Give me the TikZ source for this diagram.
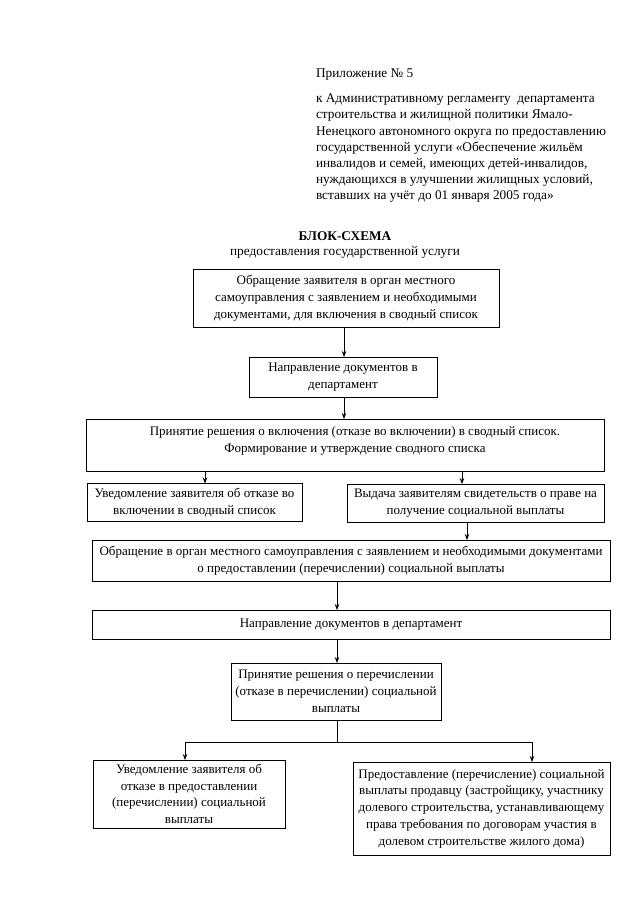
\documentclass[tikz,border=0pt]{standalone}
\usepackage{fontspec}
\setmainfont{Liberation Serif}
\usetikzlibrary{arrows.meta}
\begin{document}
\begin{tikzpicture}[x=1pt,y=-1pt,
  every node/.style={inner sep=0pt,outer sep=0pt},
  box/.style={draw,line width=0.8pt,align=center,font=\fontsize{13}{16.8}\selectfont},
  btxt/.style={align=center,font=\fontsize{13}{16.8}\selectfont},
  hdr/.style={anchor=base west,align=left,font=\fontsize{13.3}{16.2}\selectfont},
  arr/.style={line width=0.8pt,-{Stealth[length=6pt,width=4.5pt]}},
  ln/.style={line width=0.8pt}]
\useasboundingbox[fill=white] (0,0) rectangle (640,905);
% header
\node[hdr,anchor=base west] (app) at (316,77) {Приложение № 5};
\node[hdr,anchor=north west] (para) at (316,94) {к Административному регламенту~~департамента\\
строительства и жилищной политики Ямало-\\
Ненецкого автономного округа по предоставлению\\
государственной услуги «Обеспечение жильём\\
инвалидов и семей, имеющих детей-инвалидов,\\
нуждающихся в улучшении жилищных условий,\\
вставших на учёт до 01 января 2005 года»};
\node[font=\fontsize{13.3}{16}\selectfont\bfseries] (t1) at (345,236) {БЛОК-СХЕМА};
\node[font=\fontsize{13.3}{16}\selectfont] (t2) at (345,252) {предоставления государственной услуги};
% boxes
\node[box,minimum width=306,minimum height=58] (b1) at (346,298) {Обращение заявителя в орган местного\\самоуправления с заявлением и необходимыми\\документами, для включения в сводный список};
\node[box,minimum width=188,minimum height=40] (b2) at (343,377) {Направление документов в\\департамент};
\node[box,minimum width=518,minimum height=52] (b3) at (345,445) {};
\node[btxt] (b3t) at (355,441) {Принятие решения о включения (отказе во включении) в сводный список.\\Формирование и утверждение сводного списка};
\node[box,minimum width=215,minimum height=38] (b4) at (194.5,502.5) {Уведомление заявителя об отказе во\\включении в сводный список};
\node[box,minimum width=257,minimum height=38] (b5) at (475.5,503) {Выдача заявителям свидетельств о праве на\\получение социальной выплаты};
\node[box,minimum width=518,minimum height=41] (b6) at (351,560.5) {Обращение в орган местного самоуправления с заявлением и необходимыми документами\\о предоставлении (перечислении) социальной выплаты};
\node[box,minimum width=518,minimum height=29] (b7) at (351,624.5) {Направление документов в департамент};
\node[box,minimum width=210,minimum height=57] (b8) at (336,691.5) {Принятие решения о перечислении\\(отказе в перечислении) социальной\\выплаты};
\node[box,minimum width=192,minimum height=68] (b9) at (189,794) {Уведомление заявителя об\\отказе в предоставлении\\(перечислении) социальной\\выплаты};
\node[box,minimum width=257,minimum height=93] (b10) at (481.5,808.5) {Предоставление (перечисление) социальной\\выплаты продавцу (застройщику, участнику\\долевого строительства, устанавливающему\\права требования по договорам участия в\\долевом строительстве жилого дома)};
% connectors
\draw[arr] (b1.south -| 344,0) -- (b2.north -| 344,0);
\draw[arr] (b2.south -| 344,0) -- (b3.north -| 344,0);
\draw[arr] (b3.south -| 205,0) -- (b4.north -| 205,0);
\draw[arr] (b3.south -| 462,0) -- (b5.north -| 462,0);
\draw[arr] (b5.south -| 467,0) -- (b6.north -| 467,0);
\draw[arr] (b6.south -| 337,0) -- (b7.north -| 337,0);
\draw[arr] (b7.south -| 337,0) -- (b8.north -| 337,0);
\coordinate (sp) at (337,742);
\coordinate (spl) at (185,742);
\coordinate (spr) at (532,742);
\draw[ln] (b8.south -| sp) -- (sp);
\draw[ln] (spl) -- (spr);
\draw[arr] (spl) -- (b9.north -| spl);
\draw[arr] (spr) -- (b10.north -| spr);
\end{tikzpicture}
\end{document}
